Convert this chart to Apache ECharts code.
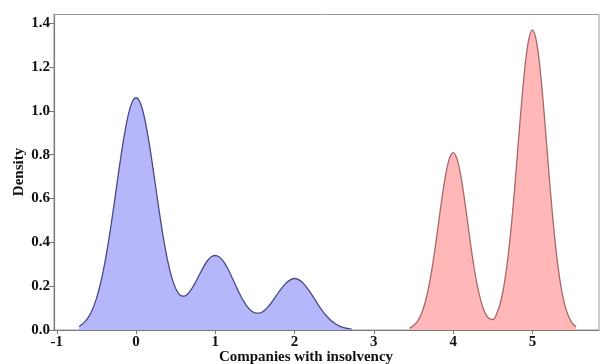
<!DOCTYPE html>
<html>
<head>
<meta charset="utf-8">
<script src="https://cdn.jsdelivr.net/npm/echarts@6/dist/echarts.min.js"></script>
<style>
  html, body { margin: 0; padding: 0; background: #fff; }
  #chart { width: 603px; height: 364px; }
</style>
</head>
<body>
<div id="chart"></div>
<script>
// Kernel density estimates: companies with insolvency (two groups)
const blueX = [-0.72,-0.70,-0.65,-0.60,-0.55,-0.50,-0.45,-0.40,-0.35,-0.30,-0.25,-0.20,-0.15,-0.10,-0.05,
  0.00,0.05,0.10,0.15,0.20,0.25,0.30,0.35,0.40,0.45,0.50,0.55,0.60,0.65,0.70,0.75,0.80,0.85,0.90,0.95,
  1.00,1.05,1.10,1.15,1.20,1.25,1.30,1.35,1.40,1.45,1.50,1.55,1.60,1.65,1.70,1.75,1.80,1.85,1.90,1.95,
  2.00,2.05,2.10,2.15,2.20,2.25,2.30,2.35,2.40,2.45,2.50,2.55,2.60,2.65,2.70,2.72];
const blueDensity = [0.017,0.021,0.036,0.059,0.094,0.143,0.210,0.295,0.398,0.516,0.643,0.770,0.885,0.978,1.039,
  1.060,1.039,0.979,0.886,0.772,0.647,0.523,0.410,0.314,0.240,0.189,0.161,0.154,0.164,0.187,0.218,0.253,0.287,0.316,0.334,
  0.340,0.333,0.314,0.285,0.248,0.209,0.170,0.136,0.108,0.088,0.078,0.077,0.084,0.100,0.121,0.147,0.173,0.197,0.217,0.230,
  0.235,0.230,0.217,0.196,0.171,0.143,0.114,0.088,0.065,0.047,0.032,0.021,0.013,0.008,0.005,0.004];

const redX = [3.45,3.50,3.55,3.60,3.65,3.70,3.75,3.80,3.85,3.90,3.95,
  4.00,4.05,4.10,4.15,4.20,4.25,4.30,4.35,4.40,4.45,4.50,4.55,4.60,4.65,4.70,4.75,4.80,4.85,4.90,4.95,
  5.00,5.05,5.10,5.15,5.20,5.25,5.30,5.35,5.40,5.45,5.50,5.55];
const redDensity = [0.009,0.019,0.039,0.074,0.130,0.211,0.318,0.446,0.579,0.697,0.780,
  0.810,0.780,0.697,0.579,0.446,0.318,0.212,0.133,0.080,0.054,0.048,0.075,0.129,0.222,0.358,0.538,0.754,0.980,1.180,1.319,
  1.370,1.319,1.180,0.980,0.754,0.538,0.358,0.221,0.126,0.067,0.033,0.015];

const xTicks = [-1, 0, 1, 2, 3, 4, 5];
const yTicks = [0, 0.2, 0.4, 0.6, 0.8, 1.0, 1.2, 1.4];

const xTitle = 'Companies with insolvency';
const yTitle = 'Density';

const pair = (xs, ys) => xs.map((x, i) => [x, ys[i]]);
const serif = 'Liberation Serif, Times New Roman, serif';
const labelStyle = { fontFamily: serif, fontWeight: 'bold', fontSize: 15, color: '#111' };

const chart = echarts.init(document.getElementById('chart'), null, { renderer: 'canvas' });
chart.setOption({
  animation: false,
  backgroundColor: '#fff',
  grid: { left: 54, right: 4, top: 14.5, bottom: 34, show: true, borderColor: '#9a9a9a', borderWidth: 1, backgroundColor: 'transparent' },
  xAxis: {
    type: 'value', min: -1.035, max: 5.84,
    axisLine: { show: true, onZero: false, lineStyle: { color: '#7a7a7a', width: 1.2 } },
    axisTick: { show: true, length: 4, lineStyle: { color: '#7a7a7a' }, customValues: xTicks },
    axisLabel: Object.assign({ margin: 5, customValues: xTicks, formatter: v => String(v) }, labelStyle),
    splitLine: { show: false }
  },
  yAxis: {
    type: 'value', min: 0, max: 1.44,
    axisLine: { show: true, onZero: false, lineStyle: { color: '#7a7a7a', width: 1.2 } },
    axisTick: { show: true, length: 5, lineStyle: { color: '#7a7a7a' }, customValues: yTicks },
    axisLabel: Object.assign({ margin: 4, customValues: yTicks, formatter: v => v.toFixed(1) }, labelStyle),
    splitLine: { show: false }
  },
  graphic: [
    { type: 'text', x: 306, y: 357, style: { text: xTitle, textAlign: 'center', textVerticalAlign: 'middle', fill: '#111', font: 'bold 15px ' + serif } },
    { type: 'text', x: 19, y: 172, rotation: Math.PI / 2, style: { text: yTitle, textAlign: 'center', textVerticalAlign: 'middle', fill: '#111', font: 'bold 15px ' + serif } }
  ],
  series: [
    {
      type: 'line', data: pair(blueX, blueDensity), showSymbol: false, smooth: 0.4,
      lineStyle: { color: '#4a4a86', width: 1.3 },
      areaStyle: { color: '#b6b6fb', opacity: 1 }
    },
    {
      type: 'line', data: pair(redX, redDensity), showSymbol: false, smooth: 0.4,
      lineStyle: { color: '#a8676a', width: 1.3 },
      areaStyle: { color: '#ffb7b7', opacity: 1 }
    }
  ]
});
</script>
</body>
</html>
